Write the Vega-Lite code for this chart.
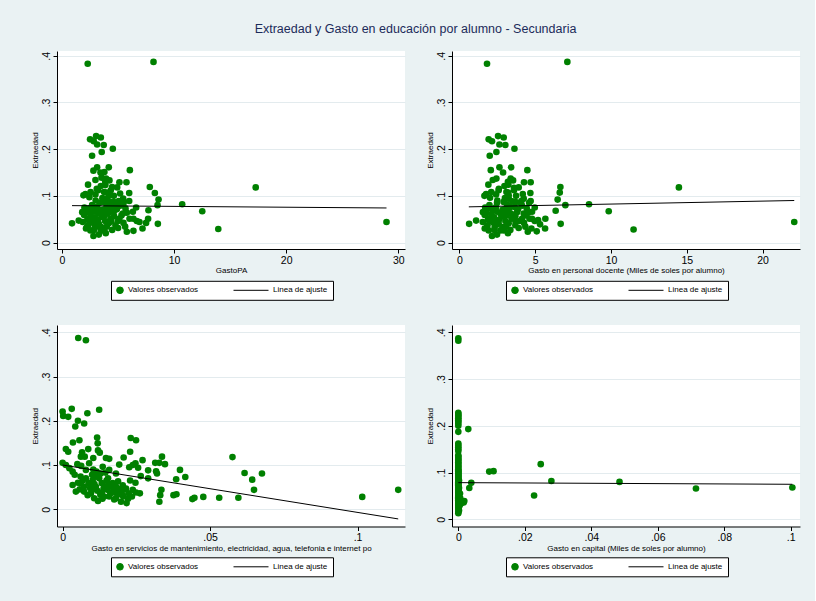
{
  "$schema": "https://vega.github.io/schema/vega-lite/v6.json",
  "background": "#eaf2f3",
  "padding": {"left": 31, "top": 22, "right": 15, "bottom": 25},
  "title": {"text": "Extraedad y Gasto en educación por alumno - Secundaria", "fontSize": 12.5, "font": "Liberation Sans", "fontWeight": "normal", "color": "#1c2b5a", "anchor": "middle", "offset": 16},
  "columns": 2,
  "spacing": {"row": 24, "column": 21},
  "resolve": {"scale": {"color": "independent", "shape": "independent", "size": "independent"}, "legend": {"color": "independent", "shape": "independent", "size": "independent"}},
  "datasets": {
    "p1": [
      {"x":2.29,"y":0.383},{"x":8.16,"y":0.387},{"x":28.95,"y":0.044},{"x":17.28,"y":0.118},{"x":13.94,"y":0.029},{"x":12.51,"y":0.067},{"x":10.72,"y":0.082},{"x":8.55,"y":0.040},{"x":8.61,"y":0.092},{"x":8.52,"y":0.080},{"x":8.28,"y":0.106},{"x":7.83,"y":0.119},{"x":7.71,"y":0.069},{"x":7.68,"y":0.051},{"x":7.5,"y":0.042},{"x":7.18,"y":0.030},{"x":0.89,"y":0.041},{"x":1.49,"y":0.047},
      {"x":2.50,"y":0.221},{"x":2.83,"y":0.217},{"x":3.04,"y":0.228},{"x":3.46,"y":0.225},{"x":3.13,"y":0.210},{"x":3.72,"y":0.209},{"x":4.53,"y":0.201},{"x":2.68,"y":0.186},{"x":3.54,"y":0.194},{"x":2.32,"y":0.124},{"x":2.80,"y":0.154},{"x":3.13,"y":0.161},{"x":3.78,"y":0.151},{"x":4.17,"y":0.161},{"x":3.43,"y":0.150},{"x":6.05,"y":0.155},{"x":2.98,"y":0.134},{"x":3.52,"y":0.139},{"x":3.93,"y":0.137},{"x":4.23,"y":0.133},{"x":5.12,"y":0.129},{"x":5.75,"y":0.129},{"x":3.46,"y":0.121},{"x":3.87,"y":0.123},{"x":4.47,"y":0.119},{"x":4.92,"y":0.118},{"x":2.09,"y":0.104},{"x":1.91,"y":0.101},{"x":2.98,"y":0.103},{"x":2.44,"y":0.097},{"x":3.99,"y":0.107},{"x":4.62,"y":0.100},{"x":5.18,"y":0.105},{"x":5.99,"y":0.106},{"x":5.45,"y":0.094},{"x":5.06,"y":0.089},{"x":5.99,"y":0.089},{"x":2.68,"y":0.080},{"x":3.34,"y":0.085},{"x":3.99,"y":0.082},{"x":4.32,"y":0.076},{"x":4.89,"y":0.071},{"x":5.18,"y":0.079},{"x":5.66,"y":0.073},{"x":6.61,"y":0.075},{"x":2.12,"y":0.064},{"x":2.56,"y":0.061},{"x":3.04,"y":0.066},{"x":3.63,"y":0.060},{"x":4.17,"y":0.066},{"x":4.65,"y":0.056},{"x":5.78,"y":0.064},{"x":6.37,"y":0.051},{"x":6.67,"y":0.046},{"x":1.85,"y":0.044},{"x":2.26,"y":0.049},{"x":2.74,"y":0.043},{"x":3.28,"y":0.040},{"x":3.84,"y":0.046},{"x":4.32,"y":0.051},{"x":5.00,"y":0.046},{"x":5.48,"y":0.042},{"x":6.02,"y":0.051},{"x":2.14,"y":0.030},{"x":2.53,"y":0.026},{"x":2.80,"y":0.014},{"x":3.28,"y":0.017},{"x":3.72,"y":0.026},{"x":4.47,"y":0.027},{"x":5.00,"y":0.031},{"x":5.78,"y":0.023},{"x":6.37,"y":0.025},{"x":2.32,"y":0.037},{"x":3.04,"y":0.034},{"x":3.99,"y":0.034},{"x":4.77,"y":0.037},{"x":5.63,"y":0.034},{"x":3.54,"y":0.055},{"x":3.10,"y":0.076},{"x":3.78,"y":0.071},{"x":4.23,"y":0.101},{"x":4.59,"y":0.087},{"x":2.92,"y":0.054},{"x":3.46,"y":0.026},{"x":4.17,"y":0.041},{"x":4.65,"y":0.076},{"x":5.12,"y":0.051},{"x":5.42,"y":0.062},{"x":3.22,"y":0.112},{"x":3.99,"y":0.094},{"x":3.69,"y":0.087},{"x":1.97,"y":0.059},{"x":2.44,"y":0.073},{"x":6.32,"y":0.066},{"x":6.91,"y":0.044},
      {"x":2.6,"y":0.045},{"x":2.9,"y":0.038},{"x":3.2,"y":0.048},{"x":3.5,"y":0.033},{"x":3.8,"y":0.058},{"x":4.1,"y":0.062},{"x":4.4,"y":0.045},{"x":2.7,"y":0.072},{"x":3.0,"y":0.09},{"x":3.6,"y":0.095},{"x":4.0,"y":0.078},{"x":4.2,"y":0.088},{"x":3.3,"y":0.062},{"x":2.4,"y":0.052},{"x":2.2,"y":0.032},{"x":3.9,"y":0.02},{"x":4.6,"y":0.065},{"x":5.3,"y":0.058},{"x":2.85,"y":0.027},{"x":3.45,"y":0.07},{"x":4.8,"y":0.085},{"x":5.5,"y":0.085},{"x":2.0,"y":0.075},{"x":1.8,"y":0.065},{"x":3.1,"y":0.115},{"x":3.75,"y":0.108},{"x":4.35,"y":0.112},{"x":2.55,"y":0.108},{"x":3.85,"y":0.13}
    ],
    "f1": [{"x":0.89,"y":0.079},{"x":28.95,"y":0.074}],
    "p2": [
      {"x":1.82,"y":0.383},{"x":7.12,"y":0.387},{"x":22.09,"y":0.044},{"x":14.48,"y":0.118},{"x":11.49,"y":0.028},{"x":9.85,"y":0.067},{"x":8.55,"y":0.082},{"x":6.99,"y":0.080},{"x":6.68,"y":0.040},{"x":6.66,"y":0.119},{"x":6.62,"y":0.107},{"x":6.48,"y":0.092},{"x":6.35,"y":0.068},{"x":0.64,"y":0.040},{"x":1.10,"y":0.047},{"x":5.65,"y":0.030},{"x":5.67,"y":0.051},{"x":5.32,"y":0.039},{"x":5.10,"y":0.024},
      {"x":1.93,"y":0.221},{"x":2.15,"y":0.217},{"x":2.55,"y":0.228},{"x":2.92,"y":0.225},{"x":2.64,"y":0.210},{"x":3.03,"y":0.209},{"x":3.63,"y":0.201},{"x":2.0,"y":0.186},{"x":2.44,"y":0.194},{"x":1.91,"y":0.124},{"x":2.07,"y":0.155},{"x":2.64,"y":0.161},{"x":2.88,"y":0.150},{"x":3.41,"y":0.161},{"x":4.48,"y":0.155},{"x":2.20,"y":0.134},{"x":2.44,"y":0.137},{"x":3.38,"y":0.137},{"x":3.54,"y":0.133},{"x":4.26,"y":0.129},{"x":4.70,"y":0.129},{"x":2.97,"y":0.121},{"x":3.23,"y":0.124},{"x":3.60,"y":0.117},{"x":3.91,"y":0.118},{"x":1.76,"y":0.104},{"x":1.65,"y":0.100},{"x":2.42,"y":0.103},{"x":2.02,"y":0.096},{"x":3.21,"y":0.107},{"x":3.74,"y":0.100},{"x":4.18,"y":0.104},{"x":4.68,"y":0.106},{"x":4.24,"y":0.094},{"x":4.09,"y":0.089},{"x":4.70,"y":0.089},{"x":1.98,"y":0.080},{"x":2.48,"y":0.085},{"x":3.14,"y":0.082},{"x":3.36,"y":0.076},{"x":3.87,"y":0.071},{"x":4.13,"y":0.079},{"x":4.44,"y":0.073},{"x":4.97,"y":0.075},{"x":1.76,"y":0.064},{"x":2.11,"y":0.061},{"x":2.48,"y":0.066},{"x":2.92,"y":0.060},{"x":3.25,"y":0.066},{"x":3.69,"y":0.056},{"x":4.53,"y":0.064},{"x":4.79,"y":0.051},{"x":4.97,"y":0.046},{"x":1.54,"y":0.044},{"x":1.89,"y":0.049},{"x":2.26,"y":0.043},{"x":2.59,"y":0.040},{"x":3.03,"y":0.046},{"x":3.43,"y":0.051},{"x":3.96,"y":0.046},{"x":4.26,"y":0.042},{"x":4.62,"y":0.051},{"x":1.67,"y":0.030},{"x":1.93,"y":0.026},{"x":2.15,"y":0.014},{"x":2.48,"y":0.017},{"x":2.92,"y":0.026},{"x":3.36,"y":0.027},{"x":3.91,"y":0.031},{"x":4.51,"y":0.023},{"x":4.75,"y":0.030},{"x":1.85,"y":0.037},{"x":2.33,"y":0.034},{"x":3.08,"y":0.034},{"x":3.69,"y":0.037},{"x":4.35,"y":0.034},{"x":2.77,"y":0.055},{"x":2.42,"y":0.076},{"x":2.99,"y":0.071},{"x":3.25,"y":0.101},{"x":3.69,"y":0.087},{"x":2.29,"y":0.054},{"x":2.70,"y":0.026},{"x":3.25,"y":0.041},{"x":3.65,"y":0.076},{"x":4.13,"y":0.051},{"x":4.24,"y":0.062},{"x":2.59,"y":0.112},{"x":3.25,"y":0.094},{"x":2.92,"y":0.087},{"x":1.67,"y":0.059},{"x":1.93,"y":0.073},{"x":4.79,"y":0.066},{"x":5.19,"y":0.048},
      {"x":2.1,"y":0.045},{"x":2.35,"y":0.038},{"x":2.6,"y":0.048},{"x":2.85,"y":0.033},{"x":3.1,"y":0.058},{"x":3.4,"y":0.062},{"x":3.7,"y":0.045},{"x":2.2,"y":0.072},{"x":2.5,"y":0.09},{"x":3.0,"y":0.095},{"x":3.3,"y":0.078},{"x":3.5,"y":0.088},{"x":2.7,"y":0.062},{"x":1.95,"y":0.052},{"x":1.8,"y":0.032},{"x":3.2,"y":0.02},{"x":3.8,"y":0.065},{"x":4.4,"y":0.058},{"x":2.3,"y":0.027},{"x":2.85,"y":0.07},{"x":4.0,"y":0.085},{"x":4.6,"y":0.085},{"x":1.7,"y":0.075},{"x":1.55,"y":0.065},{"x":2.6,"y":0.115},{"x":3.1,"y":0.108},{"x":3.6,"y":0.112},{"x":2.1,"y":0.108},{"x":3.2,"y":0.13}
    ],
    "f2": [{"x":0.62,"y":0.0764},{"x":22.09,"y":0.090}],
    "p3": [
      {"x":0.0053,"y":0.387},{"x":0.0079,"y":0.382},{"x":0.1138,"y":0.044},{"x":0.1016,"y":0.028},{"x":0.0576,"y":0.118},{"x":0.0617,"y":0.082},{"x":0.0643,"y":0.067},{"x":0.0649,"y":0.044},{"x":0.0676,"y":0.081},{"x":0.0596,"y":0.026},{"x":0.0531,"y":0.026},{"x":0.0477,"y":0.028},{"x":0.0447,"y":0.026},{"x":0.0440,"y":0.023},{"x":0.0416,"y":0.073},{"x":0.0398,"y":0.089},{"x":0.0385,"y":0.068},{"x":0.0376,"y":0.032},{"x":0.0386,"y":0.034},{"x":0.0347,"y":0.102},{"x":0.0337,"y":0.119},{"x":0.0328,"y":0.105},{"x":0.0314,"y":0.105},{"x":0.0328,"y":0.017},{"x":0.0331,"y":0.032},{"x":0.0335,"y":0.044},{"x":0.0317,"y":0.086},{"x":0.032,"y":0.081},{"x":0.029,"y":0.088},{"x":0.029,"y":0.070},{"x":0.0271,"y":0.111},{"x":0.0249,"y":0.156},{"x":0.0231,"y":0.161},{"x":0.0229,"y":0.130},{"x":0.0207,"y":0.117},{"x":0.0192,"y":0.101},{"x":0.0226,"y":0.095},{"x":0.0238,"y":0.100},{"x":0.0247,"y":0.104},{"x":0.0256,"y":0.094},{"x":0.0265,"y":0.075},{"x":0.0247,"y":0.060},{"x":0.0229,"y":0.065},{"x":0.0262,"y":0.036},{"x":0.0238,"y":0.044},{"x":0.0217,"y":0.014},
      {"x":0.0,"y":0.221},{"x":0.0002,"y":0.211},{"x":0.0019,"y":0.209},{"x":0.0031,"y":0.227},{"x":0.0052,"y":0.200},{"x":0.0043,"y":0.187},{"x":0.0073,"y":0.194},{"x":0.0084,"y":0.217},{"x":0.0124,"y":0.225},{"x":0.0035,"y":0.151},{"x":0.0057,"y":0.156},{"x":0.0117,"y":0.162},{"x":0.0119,"y":0.149},{"x":0.0011,"y":0.136},{"x":0.0019,"y":0.130},{"x":0.0087,"y":0.136},{"x":0.0066,"y":0.129},{"x":0.0062,"y":0.119},{"x":0.0075,"y":0.119},{"x":0.0104,"y":0.116},{"x":0.0120,"y":0.133},{"x":0.0126,"y":0.128},{"x":0.0147,"y":0.116},{"x":0.0158,"y":0.114},{"x":0.0,"y":0.105},{"x":0.0011,"y":0.100},{"x":0.0023,"y":0.093},{"x":0.0034,"y":0.085},{"x":0.0050,"y":0.102},{"x":0.0063,"y":0.098},{"x":0.0090,"y":0.104},{"x":0.0104,"y":0.090},{"x":0.0136,"y":0.096},{"x":0.0145,"y":0.083},{"x":0.0158,"y":0.089},{"x":0.0181,"y":0.081},{"x":0.0041,"y":0.078},{"x":0.0061,"y":0.074},{"x":0.0079,"y":0.070},{"x":0.0102,"y":0.066},{"x":0.0124,"y":0.070},{"x":0.0149,"y":0.065},{"x":0.0170,"y":0.059},{"x":0.0188,"y":0.063},{"x":0.0204,"y":0.054},{"x":0.0034,"y":0.055},{"x":0.0045,"y":0.040},{"x":0.0052,"y":0.060},{"x":0.0072,"y":0.051},{"x":0.0085,"y":0.032},{"x":0.0100,"y":0.044},{"x":0.0113,"y":0.051},{"x":0.0120,"y":0.019},{"x":0.0133,"y":0.038},{"x":0.0147,"y":0.050},{"x":0.0158,"y":0.029},{"x":0.0170,"y":0.038},{"x":0.0181,"y":0.025},{"x":0.0192,"y":0.040},{"x":0.0206,"y":0.029},{"x":0.0210,"y":0.045},{"x":0.0224,"y":0.036},{"x":0.0235,"y":0.029},{"x":0.0249,"y":0.038},{"x":0.0062,"y":0.059},{"x":0.0088,"y":0.059},{"x":0.0111,"y":0.074},{"x":0.0133,"y":0.059},{"x":0.0139,"y":0.047},{"x":0.0152,"y":0.044},{"x":0.0164,"y":0.051},{"x":0.0175,"y":0.044},{"x":0.0141,"y":0.029},{"x":0.0107,"y":0.025},{"x":0.0096,"y":0.036},{"x":0.0073,"y":0.040},{"x":0.0181,"y":0.051},{"x":0.0198,"y":0.017},{"x":0.0204,"y":0.032},{"x":0.0215,"y":0.047},{"x":0.0154,"y":0.070},{"x":0.0079,"y":0.089},{"x":0.0100,"y":0.078},{"x":0.0129,"y":0.081},
      {"x":0.0095,"y":0.055},{"x":0.0118,"y":0.042},{"x":0.0128,"y":0.033},{"x":0.0162,"y":0.036},{"x":0.0186,"y":0.033},{"x":0.0108,"y":0.057},{"x":0.0068,"y":0.065},{"x":0.0058,"y":0.045},{"x":0.0135,"y":0.024},{"x":0.0175,"y":0.022},{"x":0.0196,"y":0.046},{"x":0.0222,"y":0.024},{"x":0.0115,"y":0.085},{"x":0.0093,"y":0.048},{"x":0.0155,"y":0.057}
    ],
    "f3": [{"x":0.0,"y":0.100},{"x":0.1138,"y":-0.0218}],
    "p4": [
      {"x":0,"y":0.387},{"x":0,"y":0.382},{"x":0.003,"y":0.193},{"x":0.0093,"y":0.102},{"x":0.0106,"y":0.103},{"x":0.0248,"y":0.118},{"x":0.028,"y":0.082},{"x":0.0228,"y":0.051},{"x":0.0485,"y":0.080},{"x":0.0715,"y":0.066},{"x":0.1005,"y":0.068},{"x":0.0039,"y":0.078},{"x":0.0033,"y":0.067},{"x":0.0018,"y":0.039},{"x":0.0013,"y":0.038},{"x":0.0008,"y":0.034},{"x":0.0016,"y":0.036},{"x":0.0005,"y":0.055},{"x":0.0006,"y":0.045},{"x":0.0004,"y":0.030},
      {"x":0,"y":0.013},{"x":0,"y":0.016},{"x":0.0002,"y":0.019},{"x":0,"y":0.022},{"x":0,"y":0.025},{"x":0.0002,"y":0.027},{"x":0,"y":0.029},{"x":0,"y":0.031},{"x":0,"y":0.033},{"x":0.0002,"y":0.035},{"x":0,"y":0.037},{"x":0,"y":0.039},{"x":0,"y":0.041},{"x":0.0002,"y":0.043},{"x":0,"y":0.045},{"x":0,"y":0.047},{"x":0,"y":0.049},{"x":0,"y":0.051},{"x":0.0002,"y":0.053},{"x":0,"y":0.055},{"x":0,"y":0.057},{"x":0,"y":0.059},{"x":0,"y":0.061},{"x":0,"y":0.063},{"x":0,"y":0.065},{"x":0.0002,"y":0.067},{"x":0,"y":0.069},{"x":0,"y":0.071},{"x":0,"y":0.073},{"x":0,"y":0.075},{"x":0,"y":0.077},{"x":0,"y":0.079},{"x":0,"y":0.081},{"x":0.0002,"y":0.083},{"x":0,"y":0.085},{"x":0,"y":0.087},{"x":0,"y":0.089},{"x":0,"y":0.091},{"x":0,"y":0.093},{"x":0,"y":0.095},{"x":0,"y":0.097},{"x":0,"y":0.099},{"x":0,"y":0.101},{"x":0,"y":0.103},{"x":0,"y":0.105},{"x":0,"y":0.107},{"x":0,"y":0.110},{"x":0,"y":0.113},{"x":0,"y":0.116},{"x":0,"y":0.119},{"x":0,"y":0.122},{"x":0,"y":0.125},{"x":0,"y":0.128},{"x":0,"y":0.131},{"x":0,"y":0.134},{"x":0,"y":0.137},{"x":0,"y":0.146},{"x":0,"y":0.150},{"x":0,"y":0.154},{"x":0,"y":0.158},{"x":0,"y":0.162},{"x":0,"y":0.187},{"x":0,"y":0.200},{"x":0,"y":0.205},{"x":0,"y":0.209},{"x":0,"y":0.212},{"x":0,"y":0.216},{"x":0,"y":0.219},{"x":0,"y":0.222},{"x":0,"y":0.225},{"x":0,"y":0.228}
    ],
    "f4": [{"x":0,"y":0.0784},{"x":0.1005,"y":0.0749}]
  },
  "concat": [
    {
      "width": 348, "height": 198,
      "layer": [
        {"data": {"name": "p1"}, "mark": {"type": "point", "filled": true, "opacity": 1, "strokeWidth": 0},
         "encoding": {
           "x": {"field": "x", "type": "quantitative", "scale": {"domain": [-0.45, 30.6], "nice": false, "zero": false}, "axis": {"values": [0, 10, 20, 30], "title": "GastoPA"}},
           "y": {"field": "y", "type": "quantitative", "scale": {"domain": [-0.0139, 0.4103], "nice": false, "zero": false}, "axis": {"values": [0, 0.1, 0.2, 0.3, 0.4], "title": "Extraedad"}},
           "color": {"datum": "Valores observados", "type": "nominal", "scale": {"domain": ["Valores observados", "Linea de ajuste"], "range": ["#008000", "#000000"]}, "legend": {"title": null, "legendY": 229.8}},
           "shape": {"datum": "Valores observados", "type": "nominal", "scale": {"domain": ["Valores observados", "Linea de ajuste"], "range": ["circle", "stroke"]}, "legend": {"title": null}},
           "size": {"datum": "Valores observados", "type": "nominal", "scale": {"type": "point", "padding": 0, "domain": ["Valores observados", "Linea de ajuste"], "range": [44, 1225]}, "legend": {"title": null}}
         }},
        {"data": {"name": "f1"}, "mark": {"type": "line", "strokeWidth": 1},
         "encoding": {"x": {"field": "x", "type": "quantitative"}, "y": {"field": "y", "type": "quantitative"}, "color": {"datum": "Linea de ajuste", "type": "nominal"}}}
      ]
    },
    {
      "width": 348, "height": 198,
      "layer": [
        {"data": {"name": "p2"}, "mark": {"type": "point", "filled": true, "opacity": 1, "strokeWidth": 0},
         "encoding": {
           "x": {"field": "x", "type": "quantitative", "scale": {"domain": [-0.49, 22.47], "nice": false, "zero": false}, "axis": {"values": [0, 5, 10, 15, 20], "title": "Gasto en personal docente (Miles de soles por alumno)"}},
           "y": {"field": "y", "type": "quantitative", "scale": {"domain": [-0.0139, 0.4103], "nice": false, "zero": false}, "axis": {"values": [0, 0.1, 0.2, 0.3, 0.4], "title": "Extraedad"}},
           "color": {"datum": "Valores observados", "type": "nominal", "scale": {"domain": ["Valores observados", "Linea de ajuste"], "range": ["#008000", "#000000"]}, "legend": {"title": null, "legendY": 229.8}},
           "shape": {"datum": "Valores observados", "type": "nominal", "scale": {"domain": ["Valores observados", "Linea de ajuste"], "range": ["circle", "stroke"]}, "legend": {"title": null}},
           "size": {"datum": "Valores observados", "type": "nominal", "scale": {"type": "point", "padding": 0, "domain": ["Valores observados", "Linea de ajuste"], "range": [44, 1225]}, "legend": {"title": null}}
         }},
        {"data": {"name": "f2"}, "mark": {"type": "line", "strokeWidth": 1},
         "encoding": {"x": {"field": "x", "type": "quantitative"}, "y": {"field": "y", "type": "quantitative"}, "color": {"datum": "Linea de ajuste", "type": "nominal"}}}
      ]
    },
    {
      "width": 348, "height": 201.5,
      "layer": [
        {"data": {"name": "p3"}, "mark": {"type": "point", "filled": true, "opacity": 1, "strokeWidth": 0},
         "encoding": {
           "x": {"field": "x", "type": "quantitative", "scale": {"domain": [-0.0019, 0.1161], "nice": false, "zero": false}, "axis": {"values": [0, 0.05, 0.1], "title": "Gasto en servicios de mantenimiento, electricidad, agua, telefonia e internet po"}},
           "y": {"field": "y", "type": "quantitative", "scale": {"domain": [-0.0389, 0.4165], "nice": false, "zero": false}, "axis": {"values": [0, 0.1, 0.2, 0.3, 0.4], "title": "Extraedad"}},
           "color": {"datum": "Valores observados", "type": "nominal", "scale": {"domain": ["Valores observados", "Linea de ajuste"], "range": ["#008000", "#000000"]}, "legend": {"title": null, "legendY": 232.3}},
           "shape": {"datum": "Valores observados", "type": "nominal", "scale": {"domain": ["Valores observados", "Linea de ajuste"], "range": ["circle", "stroke"]}, "legend": {"title": null}},
           "size": {"datum": "Valores observados", "type": "nominal", "scale": {"type": "point", "padding": 0, "domain": ["Valores observados", "Linea de ajuste"], "range": [44, 1225]}, "legend": {"title": null}}
         }},
        {"data": {"name": "f3"}, "mark": {"type": "line", "strokeWidth": 1},
         "encoding": {"x": {"field": "x", "type": "quantitative"}, "y": {"field": "y", "type": "quantitative"}, "color": {"datum": "Linea de ajuste", "type": "nominal"}}}
      ]
    },
    {
      "width": 348, "height": 201.5,
      "layer": [
        {"data": {"name": "p4"}, "mark": {"type": "point", "filled": true, "opacity": 1, "strokeWidth": 0},
         "encoding": {
           "x": {"field": "x", "type": "quantitative", "scale": {"domain": [-0.0019, 0.1028], "nice": false, "zero": false}, "axis": {"values": [0, 0.02, 0.04, 0.06, 0.08, 0.1], "title": "Gasto en capital  (Miles de soles por alumno)"}},
           "y": {"field": "y", "type": "quantitative", "scale": {"domain": [-0.0154, 0.4156], "nice": false, "zero": false}, "axis": {"values": [0, 0.1, 0.2, 0.3, 0.4], "title": "Extraedad"}},
           "color": {"datum": "Valores observados", "type": "nominal", "scale": {"domain": ["Valores observados", "Linea de ajuste"], "range": ["#008000", "#000000"]}, "legend": {"title": null, "legendY": 232.3}},
           "shape": {"datum": "Valores observados", "type": "nominal", "scale": {"domain": ["Valores observados", "Linea de ajuste"], "range": ["circle", "stroke"]}, "legend": {"title": null}},
           "size": {"datum": "Valores observados", "type": "nominal", "scale": {"type": "point", "padding": 0, "domain": ["Valores observados", "Linea de ajuste"], "range": [44, 1225]}, "legend": {"title": null}}
         }},
        {"data": {"name": "f4"}, "mark": {"type": "line", "strokeWidth": 1},
         "encoding": {"x": {"field": "x", "type": "quantitative"}, "y": {"field": "y", "type": "quantitative"}, "color": {"datum": "Linea de ajuste", "type": "nominal"}}}
      ]
    }
  ],
  "config": {
    "font": "Liberation Sans",
    "view": {"fill": "white", "stroke": null},
    "axis": {"domainColor": "black", "domainWidth": 1, "tickColor": "black", "tickSize": 4, "tickWidth": 1, "labelFontSize": 10.5, "labelColor": "black", "titleFontSize": 8, "titleFontWeight": "normal", "titleColor": "black", "grid": false, "labelPadding": 2, "titlePadding": 1, "labelFlush": false, "labelOverlap": false, "labelExpr": "replace(format(datum.value, '.2~f'), '0.', '.')"},
    "axisY": {"grid": true, "gridColor": "#e3ebee", "gridWidth": 1, "labelAngle": 270, "labelAlign": "center", "labelBaseline": "bottom", "titlePadding": 2},
    "legend": {"orient": "none", "legendX": 54, "direction": "horizontal", "padding": 5, "strokeColor": "black", "fillColor": "white", "labelFontSize": 8, "labelColor": "black", "labelAlign": "left", "columnPadding": 34, "clipHeight": 9, "symbolStrokeWidth": 1, "labelLimit": 300}
  }
}
